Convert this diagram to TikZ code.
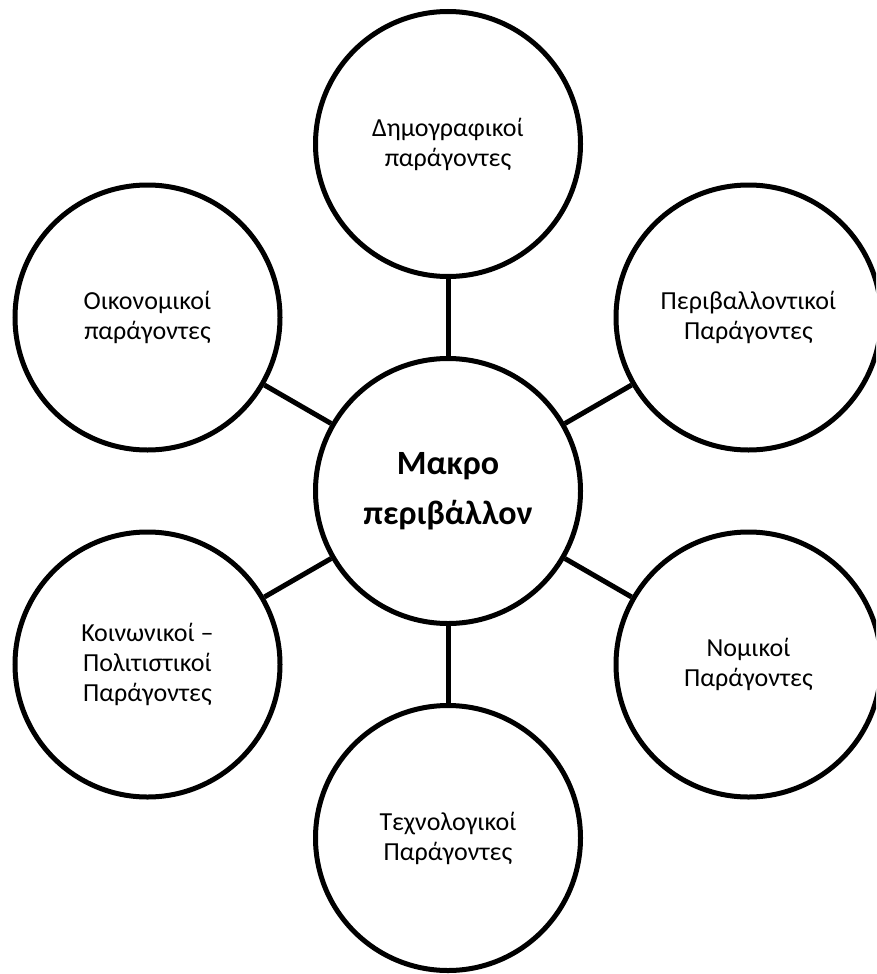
\documentclass[tikz,border=0pt]{standalone}
\usepackage{fontspec}
\setmainfont{Carlito}
\begin{document}
\begin{tikzpicture}[x=1pt,y=-1pt,
  factor/.style={circle, draw=black, line width=5pt, minimum size=265pt, inner sep=0pt,
    align=center, font=\fontsize{26}{30}\selectfont, fill=white},
  core/.style={factor, font=\bfseries\fontsize{34}{50}\selectfont},
  link/.style={line width=5pt, draw=black}]
\useasboundingbox (0,0) rectangle (876,974);
\clip (0,0) rectangle (876,974);
\node[core] (c) at (448,491) {Μακρο\\περιβάλλον};
\node[factor] (t) at (448,144) {Δημογραφικοί\\παράγοντες};
\node[factor] (tr) at (748.5,317.5) {Περιβαλλοντικοί\\Παράγοντες};
\node[factor] (br) at (748.5,664.5) {Νομικοί\\Παράγοντες};
\node[factor] (b) at (448,838) {Τεχνολογικοί\\Παράγοντες};
\node[factor] (bl) at (147.5,664.5) {Κοινωνικοί –\\Πολιτιστικοί\\Παράγοντες};
\node[factor] (tl) at (147.5,317.5) {Οικονομικοί\\παράγοντες};
\foreach \n in {t,tr,br,b,bl,tl} \draw[link] (c) -- (\n);
\end{tikzpicture}
\end{document}
